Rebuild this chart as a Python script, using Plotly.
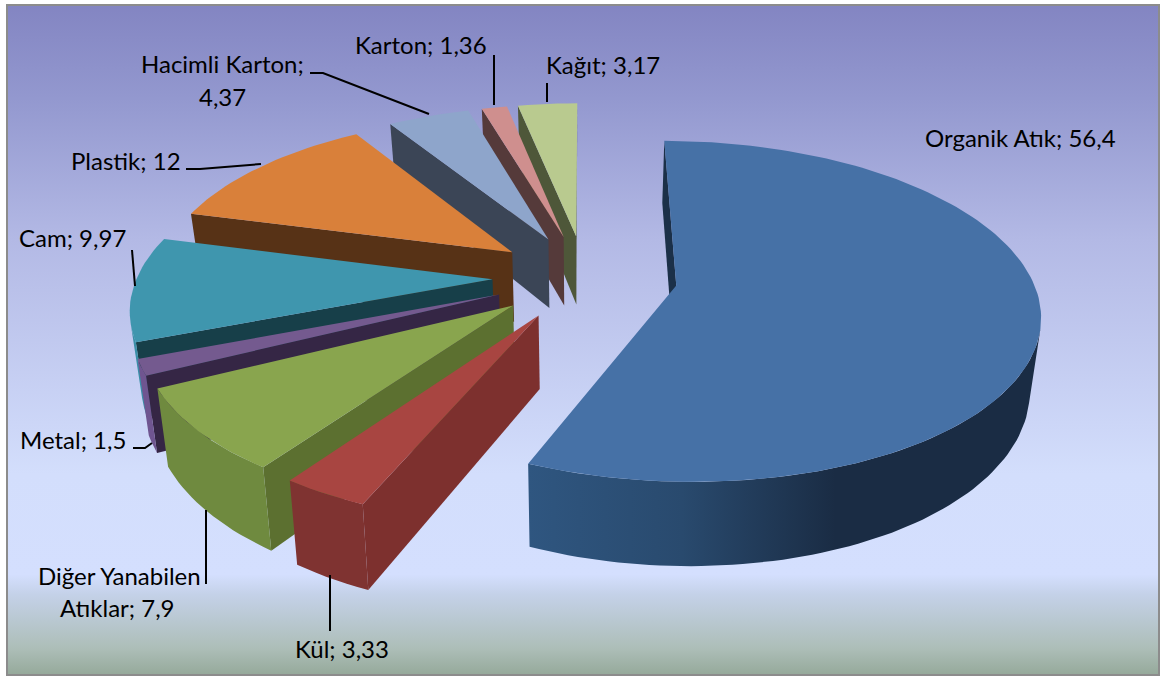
import math
import numpy as np
import plotly.graph_objects as go

# ---------- data ----------
categories = ["Organik Atık", "Kül", "Diğer Yanabilen Atıklar", "Metal", "Cam",
              "Plastik", "Hacimli Karton", "Karton", "Kağıt"]
values = [56.4, 3.33, 7.9, 1.5, 9.97, 12, 4.37, 1.36, 3.17]

# ---------- styles ----------
top_colors = ["#4671a6", "#a84541", "#89a54e", "#745a8f", "#3f96ae", "#d9803a", "#8ea5cb", "#cf8f8e", "#b9ca8f"]
wall_colors = ["#1b3048", "#7d302e", "#5c7030", "#352645", "#173f49", "#573216", "#3b4556", "#553a3a", "#4e5739"]
arc_stops = [["#2f5680", "#1a2c44"], ["#7f3331", "#7f3331"], ["#76913f", "#6f8a3f"], ["#6f5590", "#6f5590"],
             ["#3a8fa8", "#3a8fa8"], ["#9a5a25", "#9a5a25"], ["#5a6c88", "#5a6c88"], ["#8a6565", "#8a6565"], ["#7f8f60", "#7f8f60"]]

# label line breaks and centres (x, y of each line)
label_lines = {
    "Organik Atık": ["Organik Atık; 56,4"],
    "Kül": ["Kül; 3,33"],
    "Diğer Yanabilen Atıklar": ["Diğer Yanabilen", "Atıklar; 7,9"],
    "Metal": ["Metal; 1,5"],
    "Cam": ["Cam; 9,97"],
    "Plastik": ["Plastik; 12"],
    "Hacimli Karton": ["Hacimli Karton;", "4,37"],
    "Karton": ["Karton; 1,36"],
    "Kağıt": ["Kağıt; 3,17"],
}
label_pos = {
    "Organik Atık": [(1020, 137)],
    "Kül": [(342, 648)],
    "Diğer Yanabilen Atıklar": [(119, 575), (117, 607)],
    "Metal": [(73, 439)],
    "Cam": [(72, 237)],
    "Plastik": [(126, 160)],
    "Hacimli Karton": [(222, 63), (222, 96)],
    "Karton": [(421, 44)],
    "Kağıt": [(603, 64)],
}
leaders = [
    [(310, 73), (323, 73), (429, 114)],
    [(186, 169), (200, 169), (261, 164)],
    [(132, 250), (135, 286)],
    [(494, 55), (494, 105)],
    [(547, 83), (547, 102)],
    [(133, 448), (145, 448), (152, 443)],
    [(206, 510), (206, 584)],
    [(330, 575), (330, 631)],
]

# ---------- projection model ----------
CX, CY = 585, 277
A, B = 355.5, 164
K = 0.15
EXPLODE = 0.26
HEIGHT = 71
BOTTOM_SHRINK = 0.975


def project(X, Y, down=False):
    w = 1 + K * Y
    sx = A * X / w
    if down:
        sx *= BOTTOM_SHRINK
    return (CX + sx, CY - B * Y / w + (HEIGHT / w if down else 0))


def signed_area(pts):
    return sum(pts[i][0] * pts[(i + 1) % len(pts)][1] - pts[(i + 1) % len(pts)][0] * pts[i][1]
               for i in range(len(pts)))


total = sum(values)
edges = np.cumsum([0] + values) / total * 2 * math.pi
fig = go.Figure()


def poly(pts, color=None, grad=None):
    xs = [p[0] for p in pts] + [pts[0][0]]
    ys = [p[1] for p in pts] + [pts[0][1]]
    kw = dict(x=xs, y=ys, mode="lines", fill="toself", line=dict(width=0), hoverinfo="skip", showlegend=False)
    if grad:
        kw["fillgradient"] = grad
    else:
        kw["fillcolor"] = color
    fig.add_trace(go.Scatter(**kw))


# background panel
poly([(7, 5), (1159, 5), (1159, 675), (7, 675)],
     grad=dict(type="vertical", start=5, stop=675,
               colorscale=[[0, "#8385c2"], [0.14, "#9398cf"], [0.35, "#b3b9e5"], [0.7, "#d3defc"],
                           [0.85, "#d4dffe"], [0.88, "#c4d1e8"], [0.96, "#adbeb8"], [1, "#95a99a"]]))

slices = []
for i in range(len(values)):
    mid = (edges[i] + edges[i + 1]) / 2
    ax, ay = EXPLODE * math.sin(mid), EXPLODE * math.cos(mid)
    slices.append((ay, i, ax))

for ay, i, ax in sorted(slices, reverse=True):
    th = np.linspace(edges[i], edges[i + 1], max(4, int((edges[i + 1] - edges[i]) * 40)))
    wx = ax + np.sin(th)
    wy = ay + np.cos(th)
    apex_t = project(ax, ay)
    apex_b = project(ax, ay, True)
    rim_t = [project(x, y) for x, y in zip(wx, wy)]
    rim_b = [project(x, y, True) for x, y in zip(wx, wy)]
    # radial walls
    for a, b, a2, b2 in [(apex_t, rim_t[0], apex_b, rim_b[0]), (rim_t[-1], apex_t, rim_b[-1], apex_b)]:
        if signed_area([a, b, b2, a2]) < 0:
            poly([a, b, b2, a2], color=wall_colors[i])
    # outer rim: only the segments that face the viewer
    vis = [j for j in range(len(th) - 1)
           if signed_area([rim_t[j], rim_t[j + 1], rim_b[j + 1], rim_b[j]]) < 0]
    if vis:
        lo, hi = vis[0], vis[-1] + 1
        pts = rim_t[lo:hi + 1] + rim_b[lo:hi + 1][::-1]
        xs = [p[0] for p in pts]
        poly(pts, grad=dict(type="horizontal", start=min(xs), stop=max(xs),
                            colorscale=[[0, arc_stops[i][1]], [1, arc_stops[i][1]]] if i != 0 else
                            [[0, arc_stops[0][0]], [0.3, "#294a6e"], [0.6, arc_stops[0][1]], [1, arc_stops[0][1]]]))
    # top face
    poly([apex_t] + rim_t, color=top_colors[i])

# leader lines
for ln in leaders:
    fig.add_trace(go.Scatter(x=[p[0] for p in ln], y=[p[1] for p in ln], mode="lines",
                             line=dict(color="#000000", width=2), hoverinfo="skip", showlegend=False))

# border on top
fig.add_shape(type="rect", x0=7, y0=5, x1=1159, y1=675, line=dict(color="#8c8c8c", width=2))

for name in categories:
    for txt, (x, y) in zip(label_lines[name], label_pos[name]):
        fig.add_annotation(x=x, y=y, text=txt, showarrow=False, xanchor="center", yanchor="middle",
                           font=dict(family="Lato", size=24, color="#000000"))

fig.update_layout(width=1161, height=677, margin=dict(l=0, r=0, t=0, b=0),
                  paper_bgcolor="#ffffff", plot_bgcolor="#ffffff", showlegend=False,
                  xaxis=dict(range=[0, 1161], visible=False, fixedrange=True),
                  yaxis=dict(range=[677, 0], visible=False, fixedrange=True))
fig.write_html("out.html", post_script="document.body.style.margin='0';", config={"displayModeBar": False})
